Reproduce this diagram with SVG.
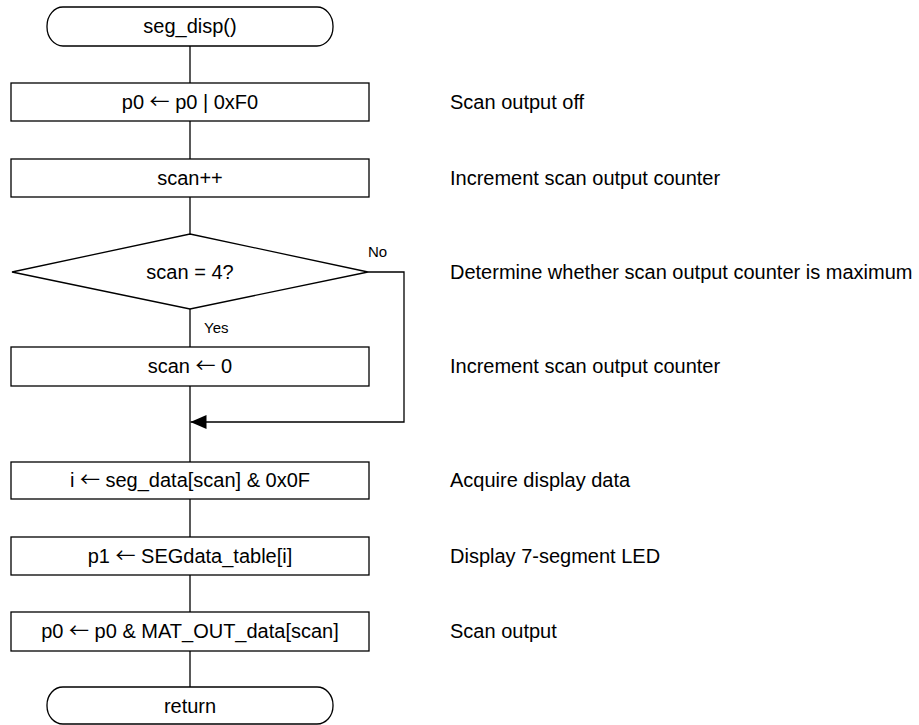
<svg xmlns="http://www.w3.org/2000/svg" width="919" height="725" viewBox="0 0 919 725">
<style>
.s{fill:#fff;stroke:#000;stroke-width:1.3}
.c{fill:none;stroke:#000;stroke-width:1.3}
text{font-family:"Liberation Sans",Arial,sans-serif;font-size:20px;fill:#000}
.m{text-anchor:middle}
.l{font-size:15px}
.a{font-family:"Noto Sans CJK JP",sans-serif}
</style>
<defs>
<marker id="ah" markerWidth="16" markerHeight="14" refX="16" refY="7" orient="auto" markerUnits="userSpaceOnUse">
<path d="M0,0 L16,7 L0,14 Z" fill="#000"/>
</marker>
</defs>
<g id="connectors">
<line class="c" x1="190" y1="46" x2="190" y2="83"/>
<line class="c" x1="190" y1="121" x2="190" y2="159"/>
<line class="c" x1="190" y1="197" x2="190" y2="234"/>
<line class="c" x1="190" y1="309" x2="190" y2="347"/>
<line class="c" x1="190" y1="386" x2="190" y2="462"/>
<line class="c" x1="190" y1="499" x2="190" y2="537"/>
<line class="c" x1="190" y1="575" x2="190" y2="612"/>
<line class="c" x1="190" y1="651" x2="190" y2="687"/>
<polyline class="c" points="368,272 404,272 404,422 190.5,422" marker-end="url(#ah)"/>
<text class="l" x="368" y="257">No</text>
<text class="l" x="204" y="333">Yes</text>
</g>
<g id="start">
<rect class="s" x="47" y="7" width="286" height="39" rx="16" ry="19"/>
<text class="m" x="190" y="33">seg_disp()</text>
</g>
<g id="n1">
<rect class="s" x="11" y="83" width="358" height="38"/>
<text class="m" x="190" y="109">p0 <tspan class="a">←</tspan> p0 | 0xF0</text>
</g>
<g id="n2">
<rect class="s" x="11" y="159" width="358" height="38"/>
<text class="m" x="190" y="185">scan++</text>
</g>
<g id="d1">
<polygon class="s" points="190,234 368,272 190,309 12,272"/>
<text class="m" x="190" y="279">scan = 4?</text>
</g>
<g id="n3">
<rect class="s" x="11" y="347" width="358" height="39"/>
<text class="m" x="190" y="373">scan <tspan class="a">←</tspan> 0</text>
</g>
<g id="n4">
<rect class="s" x="11" y="462" width="358" height="37"/>
<text class="m" x="190" y="487">i <tspan class="a">←</tspan> seg_data[scan] &amp; 0x0F</text>
</g>
<g id="n5">
<rect class="s" x="11" y="537" width="358" height="38"/>
<text class="m" x="190" y="563">p1 <tspan class="a">←</tspan> SEGdata_table[i]</text>
</g>
<g id="n6">
<rect class="s" x="11" y="612" width="358" height="39"/>
<text class="m" x="190" y="638">p0 <tspan class="a">←</tspan> p0 &amp; MAT_OUT_data[scan]</text>
</g>
<g id="end">
<rect class="s" x="47" y="687" width="286" height="37" rx="16" ry="18"/>
<text class="m" x="190" y="713">return</text>
</g>
<g id="comments">
<text x="450" y="109">Scan output off</text>
<text x="450" y="185">Increment scan output counter</text>
<text x="450" y="279">Determine whether scan output counter is maximum</text>
<text x="450" y="373">Increment scan output counter</text>
<text x="450" y="487">Acquire display data</text>
<text x="450" y="563">Display 7-segment LED</text>
<text x="450" y="638">Scan output</text>
</g>
</svg>
